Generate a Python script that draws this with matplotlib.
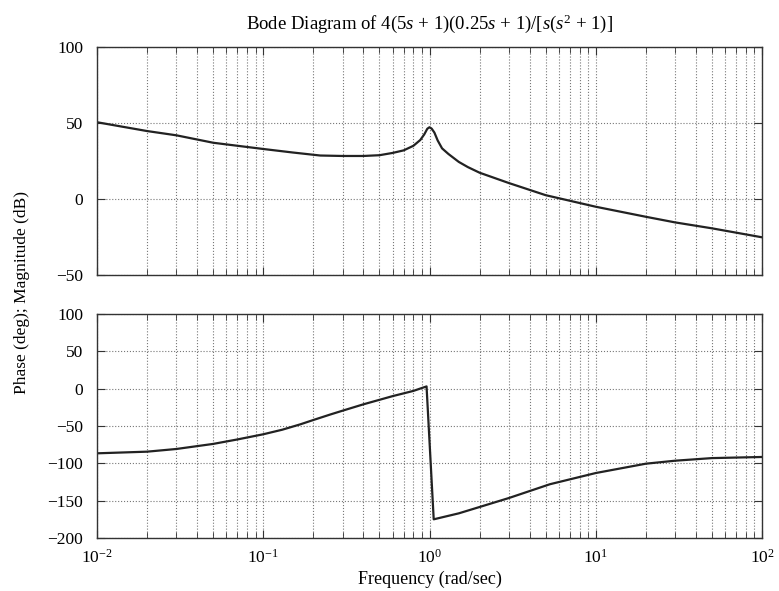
import matplotlib
matplotlib.use("Agg")
import matplotlib.pyplot as plt
from matplotlib.ticker import LogLocator, NullFormatter

plt.rcParams['font.family'] = 'Liberation Serif'
plt.rcParams['mathtext.fontset'] = 'custom'
plt.rcParams['mathtext.rm'] = 'Liberation Serif'
plt.rcParams['mathtext.it'] = 'Liberation Serif:italic'

# values
freq_mag = [0.01, 0.02, 0.03, 0.05, 0.07, 0.1, 0.15, 0.22, 0.3, 0.4, 0.5, 0.6,
            0.7, 0.8, 0.88, 0.93, 0.97, 1.0, 1.03, 1.07, 1.12, 1.19, 1.3, 1.5,
            1.7, 2.0, 3.0, 5.0, 10, 20, 30, 50, 100]
mag_db = [50.5, 44.7, 41.9, 37.0, 35.0, 32.9, 30.6, 28.6, 28.3, 28.3, 28.8, 30.3,
          32.0, 35.0, 38.8, 42.5, 46.2, 47.2, 46.3, 43.7, 38.5, 33.3, 29.6, 24.4,
          21.0, 17.3, 10.5, 2.5, -5.1, -11.7, -15.4, -19.3, -25.2]

freq_ph = [0.01, 0.02, 0.03, 0.05, 0.07, 0.1, 0.13, 0.167, 0.2, 0.254, 0.3, 0.4,
           0.6, 0.8, 0.96, 1.06, 1.5, 2.0, 3.0, 5.3, 10, 20, 30, 50, 100]
phase_deg = [-86.6, -84.4, -80.8, -74.0, -68.0, -61.1, -55.0, -47.8, -42.0, -34.5,
             -29.5, -21.0, -10.0, -3.0, 3.0, -175.0, -167.0, -158.5, -146.5, -128.0,
             -113.0, -100.5, -96.5, -93.0, -91.5]

mag_ticks = [-50, 0, 50, 100]
phase_ticks = [-200, -150, -100, -50, 0, 50, 100]

fig = plt.figure(figsize=(7.79, 5.91), dpi=100)
ax1 = fig.add_axes([0.1245, 0.5347, 0.8537, 0.3858])
ax2 = fig.add_axes([0.1245, 0.0897, 0.8537, 0.3790])

line_color = '#222222'
ax1.semilogx(freq_mag, mag_db, color=line_color, lw=1.6)
ax2.semilogx(freq_ph, phase_deg, color=line_color, lw=1.6)

for ax, ticks in ((ax1, mag_ticks), (ax2, phase_ticks)):
    ax.set_xlim(0.01, 100)
    ax.set_ylim(ticks[0], ticks[-1])
    ax.set_yticks(ticks)
    ax.xaxis.set_major_locator(LogLocator(base=10, numticks=10))
    ax.xaxis.set_minor_locator(LogLocator(base=10, subs=range(2, 10), numticks=10))
    ax.xaxis.set_minor_formatter(NullFormatter())
    ax.grid(True, which='major', axis='both', color='#777777', ls=':', lw=0.8)
    ax.grid(True, which='minor', axis='x', color='#777777', ls=':', lw=0.8)
    ax.tick_params(which='both', direction='in', top=True, right=True,
                   labelsize=12.5, color='#333333')
    ax.tick_params(which='major', length=6)
    ax.tick_params(which='minor', length=4)
    ax.tick_params(axis='y', pad=10)
    ax.tick_params(axis='x', pad=8)
    for s in ax.spines.values():
        s.set_color('#333333')
        s.set_linewidth(1.0)

ax1.tick_params(labelbottom=False)

ax1.set_title('Bode Diagram of 4(5$s$ + 1)(0.25$s$ + 1)/[$s$($s^2$ + 1)]',
              fontsize=13.5, pad=13)
ax2.set_xlabel('Frequency (rad/sec)', fontsize=13, labelpad=3)
fig.text(0.028, 0.505, 'Phase (deg); Magnitude (dB)', rotation=90,
         ha='center', va='center', fontsize=12.5)

fig.savefig('out.png', dpi=100)
